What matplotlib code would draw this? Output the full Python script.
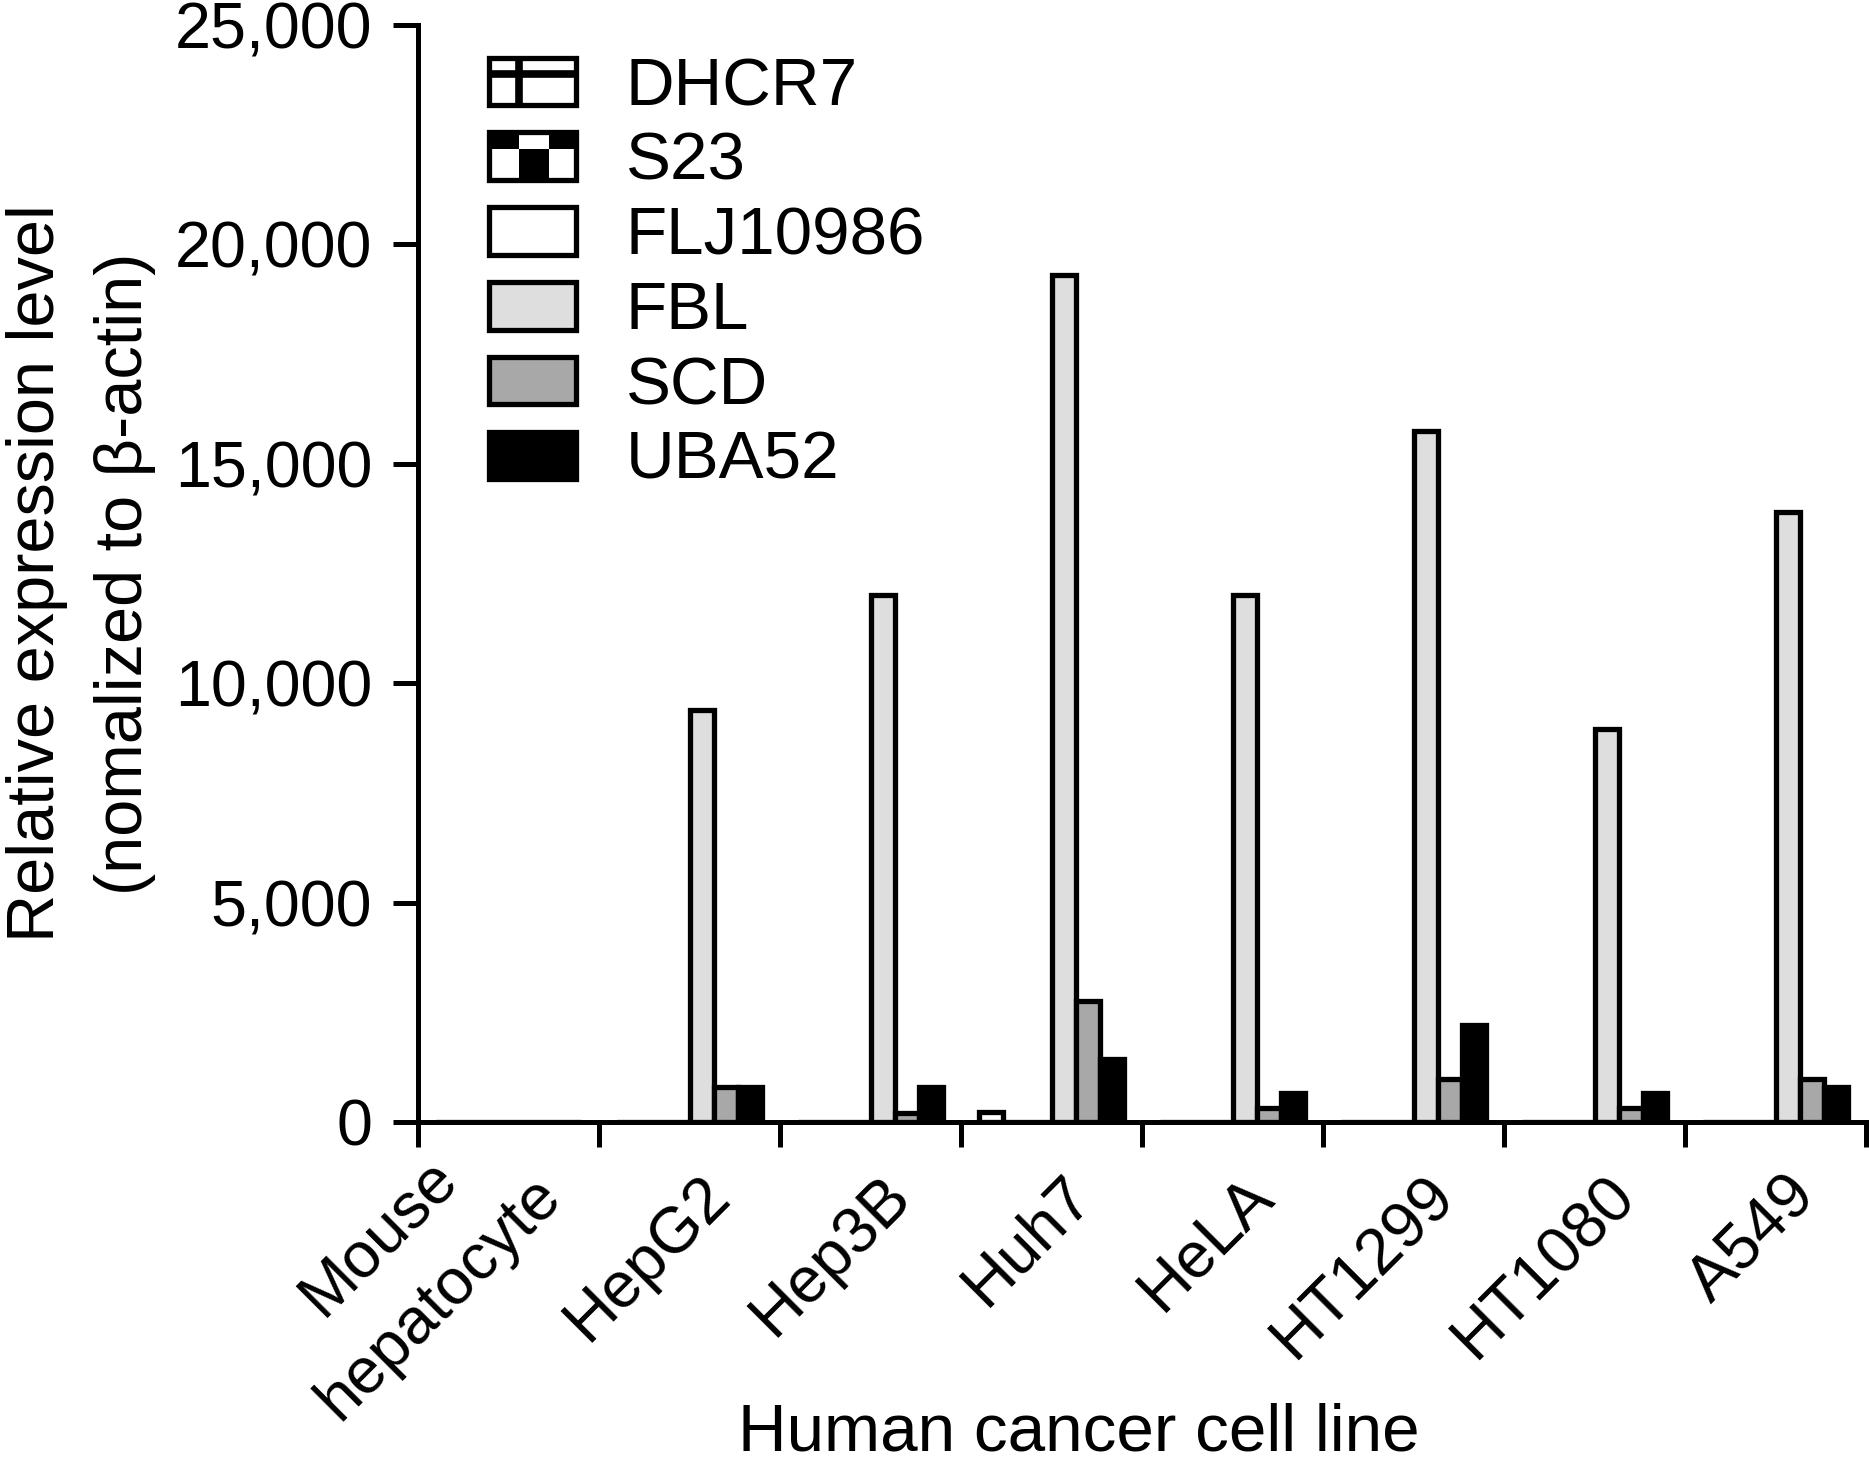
import numpy as np
import matplotlib
matplotlib.use('Agg')
import matplotlib.pyplot as plt
import matplotlib.transforms as mtransforms
from matplotlib.patches import Rectangle
from matplotlib.lines import Line2D
from matplotlib.legend_handler import HandlerBase
from matplotlib.ticker import FuncFormatter

plt.rcParams['font.family'] = ['Liberation Sans', 'DejaVu Sans']

# data
cells = ['Mouse\nhepatocyte', 'HepG2', 'Hep3B', 'Huh7', 'HeLA', 'HT1299', 'HT1080', 'A549']
genes = ['DHCR7', 'S23', 'FLJ10986', 'FBL', 'SCD', 'UBA52']
dhcr7 = [0, 0, 0, 220, 0, 0, 0, 0]
s23 = [0, 0, 0, 0, 0, 0, 0, 0]
flj10986 = [0, 0, 0, 0, 0, 0, 0, 0]
fbl = [0, 9400, 12000, 19300, 12000, 15750, 8950, 13900]
scd = [0, 800, 200, 2750, 320, 970, 320, 970]
uba52 = [0, 800, 800, 1440, 650, 2200, 650, 800]

values = [dhcr7, s23, flj10986, fbl, scd, uba52]
faces = ['white', 'white', 'white', '#dedede', '#a8a8a8', 'black']

EDGE = 3.8   # bar outline [pt]
W = 0.1326   # single bar width (category = 1)
FS = 48.5    # label / legend font size
TFS = 46.5   # tick label font size


class HandlerTile(HandlerBase):
    """legend swatch with the coarse tiled fills of DHCR7 / S23"""
    def __init__(self, kind):
        super().__init__()
        self.kind = kind

    def create_artists(self, legend, orig_handle, xdescent, ydescent,
                       width, height, fontsize, trans):
        x0, y0 = -xdescent, -ydescent
        arts = [Rectangle((x0, y0), width, height, facecolor='white',
                          edgecolor='none', transform=trans)]
        hy = y0 + 0.66 * height
        if self.kind == 'grid':
            arts.append(Line2D([x0, x0 + width], [hy, hy], color='black',
                               lw=5.5, solid_capstyle='butt', transform=trans))
            vx = x0 + 0.35 * width
            arts.append(Line2D([vx, vx], [y0, y0 + height], color='black',
                               lw=5.5, solid_capstyle='butt', transform=trans))
        else:
            c1, c2 = x0 + 0.35 * width, x0 + 0.69 * width
            for (xa, xb, ya, yb) in [(x0, c1, hy, y0 + height),
                                     (c2, x0 + width, hy, y0 + height),
                                     (c1, c2, y0, hy)]:
                arts.append(Rectangle((xa, ya), xb - xa, yb - ya, facecolor='black',
                                      edgecolor='none', transform=trans))
        arts.append(Rectangle((x0, y0), width, height, facecolor='none',
                              edgecolor='black', lw=EDGE, transform=trans))
        return arts


fig = plt.figure(figsize=(18.69, 14.64), dpi=100)
ax = fig.add_axes([418 / 1869, 1 - 1122 / 1464, (1866 - 418) / 1869, (1122 - 25) / 1464])

x = np.arange(len(cells))
bars = []
for k, (vals, fc) in enumerate(zip(values, faces)):
    b = ax.bar(x + (k - 2.5) * W, vals, width=W, color=fc, edgecolor='black',
               linewidth=EDGE, label=genes[k], zorder=2)
    bars.append(b)

ax.set_xlim(-0.5, len(cells) - 0.5)
ax.set_ylim(0, 25000)
ax.set_yticks(np.arange(0, 25001, 5000))
ax.yaxis.set_major_formatter(FuncFormatter(lambda v, p: f'{int(v):,}'))
ax.set_xticks(np.arange(-0.5, len(cells)), labels=[])
for s in ['top', 'right']:
    ax.spines[s].set_visible(False)
for s in ['left', 'bottom']:
    ax.spines[s].set_linewidth(3.6)
ax.tick_params(axis='both', direction='out', length=18, width=3.6, labelsize=TFS, pad=15)

# rotated category names
for i, name in enumerate(cells):
    if '\n' in name:
        dx, dy = 12.5, -34
    else:
        dx, dy = 31, -64
    off = mtransforms.ScaledTranslation(dx / 100, dy / 100, fig.dpi_scale_trans)
    ax.text(i, 0, name, transform=ax.get_xaxis_transform() + off, rotation=45,
            ha='right', va='center', rotation_mode='anchor', multialignment='center',
            fontsize=TFS, linespacing=1.55)

ax.set_ylabel('Relative expression level\n(nomalized to β-actin)', fontsize=48, linespacing=1.55)
ax.yaxis.set_label_coords(-0.181, 0.5)
ax.set_xlabel('Human cancer cell line', fontsize=FS)
ax.xaxis.set_label_coords(0.4565, -0.299)
ax.xaxis.label.set_va('baseline')

hmap = {bars[0]: HandlerTile('grid'), bars[1]: HandlerTile('check')}
ax.legend(handles=bars, labels=genes, handler_map=hmap, loc='upper left',
          bbox_to_anchor=(488.5 / 1869, 1 - 57 / 1464), bbox_transform=fig.transFigure,
          frameon=False, fontsize=FS, handlelength=1.30, handleheight=0.71,
          handletextpad=0.74, labelspacing=0.19, borderpad=0, borderaxespad=0)

fig.savefig('out.png', dpi=100)
